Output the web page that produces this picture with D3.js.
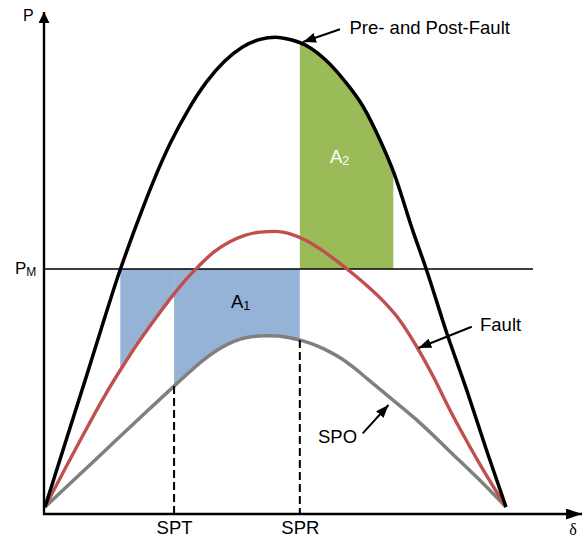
<!DOCTYPE html>
<html><head><meta charset="utf-8">
<script src="https://cdn.jsdelivr.net/npm/d3@7/dist/d3.min.js"></script>
<style>body{margin:0;background:#fff}svg{display:block}</style>
</head><body><svg id="c" width="584" height="539"></svg>
<script>
// ---- data (δ in degrees, P in units of PM) ----
const prePostDelta = [0,10,15.6,22,28.2,35,42,49,56,63,70,77,84,90,96,103,110,117,124,130.8,136,143.8,149,156.9,164.7,172.5,180];
const prePostP     = [0,0.34,0.53,0.75,0.96,1.165,1.36,1.53,1.67,1.785,1.872,1.932,1.965,1.974,1.963,1.933,1.874,1.79,1.686,1.542,1.41,1.155,0.995,0.73,0.49,0.235,0];
const faultDelta   = [0,12,24,30,37,44,50,55,60,66,72,78,84,90,96,102,108,114,120,126,132,138,145,151.6,158,164,170,180];
const faultP       = [0,0.245,0.48,0.585,0.70,0.805,0.89,0.955,1.012,1.072,1.113,1.141,1.155,1.158,1.147,1.12,1.08,1.033,0.982,0.927,0.866,0.792,0.676,0.548,0.41,0.29,0.176,0];
const spoDelta     = [0,20,40,50.4,56,61,66,71,76,81,86,91,96,101,106,111,116,121,126,134,145,159.4,170,180];
const spoP         = [0,0.202,0.404,0.508,0.563,0.61,0.65,0.682,0.704,0.716,0.72,0.718,0.71,0.697,0.678,0.653,0.622,0.582,0.537,0.466,0.367,0.22,0.11,0];
const PM = 1;
const deltaStart = 29.4;   // pre-fault operating angle
const deltaSPT = 50.4;
const deltaSPR = 99.5;
const deltaMaxSwing = 136.0;
const tickValues = [deltaSPT, deltaSPR];
const tickLabels = ["SPT", "SPR"];

const colors = {prePost:"#000000", fault:"#c0504d", spo:"#808080", a1:"#95b3d7", a2:"#9bbb59"};
const font = "'Liberation Sans', Arial, sans-serif";

const svg = d3.select("#c");
const x = d3.scaleLinear().domain([0,180]).range([45,506]);
const y = d3.scaleLinear().domain([0,1]).range([507,269]);
const axisY = y(0) + 7, axisX = 44;

const pts = (ds, ps) => ds.map((d,i)=>[d, ps[i]]);
const prePost = pts(prePostDelta, prePostP);
const fault = pts(faultDelta, faultP);
const spo = pts(spoDelta, spoP);

const curve = d3.curveMonotoneX;
const line = d3.line().x(d=>x(d[0])).y(d=>y(d[1])).curve(curve);
const area = d3.area().x(d=>x(d[0])).y0(y(PM)).y1(d=>y(d[1])).curve(curve);

const defs = svg.append("defs");
function clip(id, d0, d1){
  defs.append("clipPath").attr("id", id).append("rect")
    .attr("x", x(d0)).attr("y", 0).attr("width", x(d1)-x(d0)).attr("height", 539);
}
clip("cA1a", deltaStart, deltaSPT);
clip("cA1b", deltaSPT, deltaSPR);
clip("cA2", deltaSPR, deltaMaxSwing);

function marker(id, len, w){
  defs.append("marker").attr("id", id).attr("viewBox", `0 0 ${len} ${w}`)
    .attr("refX", len).attr("refY", w/2).attr("markerWidth", len).attr("markerHeight", w)
    .attr("markerUnits", "userSpaceOnUse").attr("orient", "auto")
    .append("path").attr("d", `M0,0L${len},${w/2}L0,${w}Z`).attr("fill", "#000");
}
marker("arrY", 11, 11);
marker("arrX", 16, 11);
marker("arrA", 13, 10);

// fills
svg.append("path").attr("d", area(fault)).attr("fill", colors.a1).attr("clip-path", "url(#cA1a)");
svg.append("path").attr("d", area(spo)).attr("fill", colors.a1).attr("clip-path", "url(#cA1b)");
svg.append("path").attr("d", area(prePost)).attr("fill", colors.a2).attr("clip-path", "url(#cA2)");

// PM line
svg.append("line").attr("x1", axisX).attr("x2", 533).attr("y1", y(PM)).attr("y2", y(PM))
  .attr("stroke", "#000").attr("stroke-width", 1.6);

// curves
const spoPath = svg.append("path").attr("d", line(spo)).attr("fill", "none")
  .attr("stroke", colors.spo).attr("stroke-width", 3.5);
svg.append("path").attr("d", line(fault)).attr("fill", "none")
  .attr("stroke", colors.fault).attr("stroke-width", 3.4);
svg.append("path").attr("d", line(prePost)).attr("fill", "none")
  .attr("stroke", colors.prePost).attr("stroke-width", 3.5);

// y on path at given px
function yAt(node, px){
  const L = node.getTotalLength();
  let lo = 0, hi = L;
  for (let i=0;i<40;i++){
    const m = (lo+hi)/2;
    if (node.getPointAtLength(m).x < px) lo = m; else hi = m;
  }
  return node.getPointAtLength(lo).y;
}
// dashed drop lines
tickValues.forEach(v=>{
  svg.append("line").attr("x1", x(v)).attr("x2", x(v))
    .attr("y1", yAt(spoPath.node(), x(v))).attr("y2", axisY)
    .attr("stroke", "#000").attr("stroke-width", 2).attr("stroke-dasharray", "8,4");
});

// axes
svg.append("line").attr("x1", axisX).attr("x2", axisX).attr("y1", axisY+1).attr("y2", 12)
  .attr("stroke", "#000").attr("stroke-width", 2.4).attr("marker-end", "url(#arrY)");
svg.append("line").attr("x1", axisX-1).attr("x2", 582).attr("y1", axisY).attr("y2", axisY)
  .attr("stroke", "#000").attr("stroke-width", 2.4).attr("marker-end", "url(#arrX)");

const xAxis = d3.axisBottom(x).tickValues(tickValues).tickFormat((d,i)=>tickLabels[i])
  .tickSize(0).tickPadding(7);
const gx = svg.append("g").attr("transform", `translate(0,${axisY})`).call(xAxis);
gx.select(".domain").remove();
gx.selectAll("text").attr("font-family", font).attr("font-size", 18.5).attr("fill", "#000");

// labels
svg.append("text").attr("x", 23).attr("y", 20.5).attr("font-family", font).attr("font-size", 16).text("P");
const pm = svg.append("text").attr("x", 15).attr("y", 273.5).attr("font-family", font).attr("font-size", 17);
pm.append("tspan").text("P");
pm.append("tspan").attr("font-size", 12).attr("dy", 2.5).text("M");
svg.append("text").attr("x", 573).attr("y", 535).attr("text-anchor", "middle")
  .attr("font-family", "'Liberation Serif', 'Times New Roman', serif").attr("font-size", 16).text("δ");

svg.append("text").attr("x", 349.5).attr("y", 34).attr("font-family", font).attr("font-size", 18.5).text("Pre- and Post-Fault");
svg.append("text").attr("x", 480).attr("y", 331).attr("font-family", font).attr("font-size", 18.5).text("Fault");
svg.append("text").attr("x", 318).attr("y", 443).attr("font-family", font).attr("font-size", 18.5).text("SPO");

const a1 = svg.append("text").attr("x", 231).attr("y", 308).attr("font-family", font).attr("font-size", 18.5);
a1.append("tspan").text("A");
a1.append("tspan").attr("font-size", 12.5).attr("dy", 2).text("1");
const a2 = svg.append("text").attr("x", 330).attr("y", 162.7).attr("font-family", font).attr("font-size", 18.5).attr("fill", "#fff");
a2.append("tspan").text("A");
a2.append("tspan").attr("font-size", 12.5).attr("dy", 2).text("2");

// annotation arrows
const arrows = [[340,29.3,303,42],[471.7,326.7,418.5,348],[362.7,433.3,388.5,405]];
arrows.forEach(a=>{
  svg.append("line").attr("x1", a[0]).attr("y1", a[1]).attr("x2", a[2]).attr("y2", a[3])
    .attr("stroke", "#000").attr("stroke-width", 2).attr("marker-end", "url(#arrA)");
});
</script></body></html>
